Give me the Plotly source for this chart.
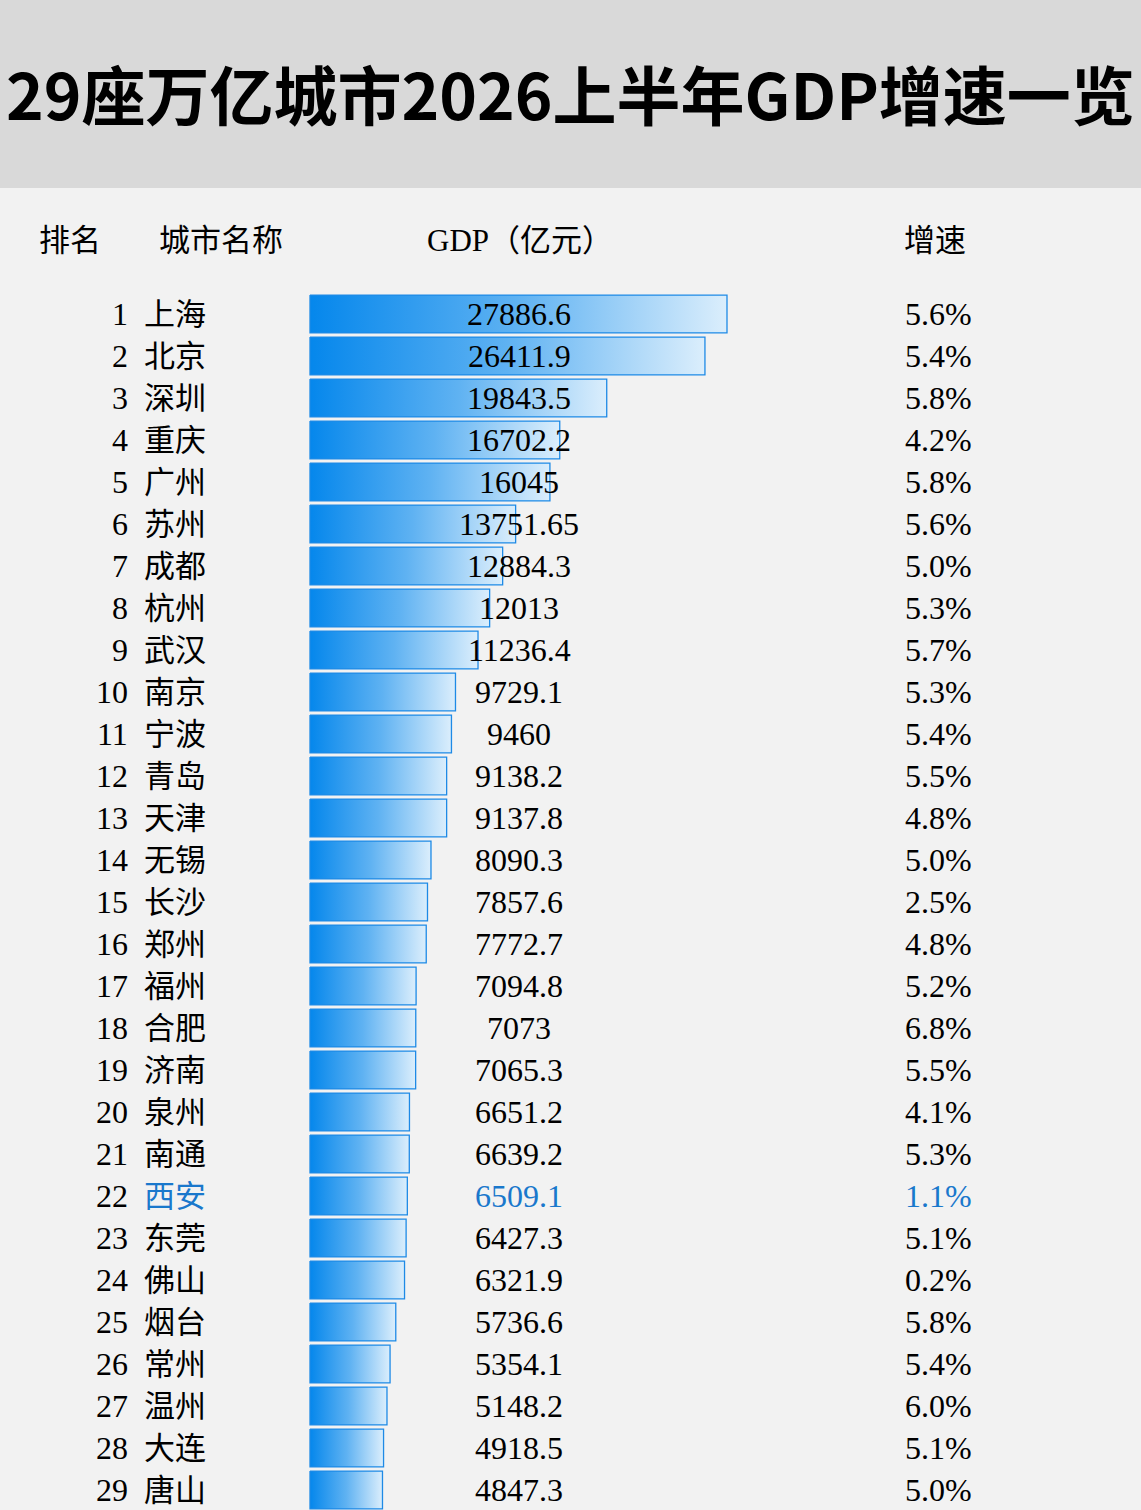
import plotly.graph_objects as go

# 29座万亿城市 2026上半年 GDP 与增速
ranks = list(range(1, 30))
cities = ["上海", "北京", "深圳", "重庆", "广州", "苏州", "成都", "杭州", "武汉", "南京",
          "宁波", "青岛", "天津", "无锡", "长沙", "郑州", "福州", "合肥", "济南", "泉州",
          "南通", "西安", "东莞", "佛山", "烟台", "常州", "温州", "大连", "唐山"]
gdp_text = ["27886.6", "26411.9", "19843.5", "16702.2", "16045", "13751.65", "12884.3", "12013",
            "11236.4", "9729.1", "9460", "9138.2", "9137.8", "8090.3", "7857.6", "7772.7",
            "7094.8", "7073", "7065.3", "6651.2", "6639.2", "6509.1", "6427.3", "6321.9",
            "5736.6", "5354.1", "5148.2", "4918.5", "4847.3"]
gdp = [float(v) for v in gdp_text]
growth = ["5.6%", "5.4%", "5.8%", "4.2%", "5.8%", "5.6%", "5.0%", "5.3%", "5.7%", "5.3%",
          "5.4%", "5.5%", "4.8%", "5.0%", "2.5%", "4.8%", "5.2%", "6.8%", "5.5%", "4.1%",
          "5.3%", "1.1%", "5.1%", "0.2%", "5.8%", "5.4%", "6.0%", "5.1%", "5.0%"]
highlight = "西安"

W, H = 1141, 1510
X0 = 310            # pixel where GDP = 0
PX_PER = 417 / 27886.6
ROW0, ROWH = 314, 42

xr = [-X0 / PX_PER, (W - X0) / PX_PER]
yr = [1 + (H - ROW0) / ROWH, 1 - ROW0 / ROWH]

BODY = "Liberation Serif, Noto Sans CJK SC, serif"
BLUE = "#1a78cc"
half = 0.45

fig = go.Figure()

for r, v in zip(ranks, gdp):
    fig.add_trace(go.Scatter(
        x=[0, v, v, 0, 0], y=[r - half, r - half, r + half, r + half, r - half],
        mode="lines", fill="toself",
        line=dict(color="#1e8ae6", width=1.3),
        fillgradient=dict(type="horizontal",
                          colorscale=[[0, "#0587ec"], [0.5, "#5fb2f2"], [1, "#dbeefc"]]),
        hoverinfo="skip", showlegend=False))

ann = []
for r, c, t, g in zip(ranks, cities, gdp_text, growth):
    col = BLUE if c == highlight else "black"
    ann.append(dict(x=130 / W, y=r, xref="paper", yref="y", text=str(r), xanchor="right",
                    showarrow=False, font=dict(family=BODY, size=32, color="black")))
    ann.append(dict(x=142 / W, y=r, xref="paper", yref="y", text=c, xanchor="left",
                    showarrow=False, font=dict(family=BODY, size=31, color=col)))
    ann.append(dict(x=519 / W, y=r, xref="paper", yref="y", text=t, xanchor="center",
                    showarrow=False, font=dict(family=BODY, size=32, color=col)))
    ann.append(dict(x=903 / W, y=r, xref="paper", yref="y", text=g, xanchor="left",
                    showarrow=False, font=dict(family=BODY, size=32, color=col)))

# header row
hy = 1 - 241 / H
for txt, x, anc in [("排名", 37, "left"), ("城市名称", 157, "left"),
                    ("GDP（亿元）", 520, "center"), ("增速", 902, "left")]:
    ann.append(dict(x=x / W, y=hy, xref="paper", yref="paper", text=txt, xanchor=anc,
                    yanchor="middle", showarrow=False,
                    font=dict(family=BODY, size=31, color="black")))

# title
ann.append(dict(x=0.5, y=1 - 92 / H, xref="paper", yref="paper",
                text="<b>29座万亿城市2026上半年GDP增速一览</b>", xanchor="center",
                yanchor="middle", showarrow=False,
                font=dict(family="Noto Sans CJK SC", size=64, color="black")))

fig.update_layout(
    width=W, height=H,
    margin=dict(l=0, r=0, t=0, b=0),
    paper_bgcolor="#f2f2f2", plot_bgcolor="#f2f2f2",
    xaxis=dict(range=xr, visible=False, fixedrange=True),
    yaxis=dict(range=yr, visible=False, fixedrange=True),
    annotations=ann,
    shapes=[dict(type="rect", xref="paper", yref="paper", x0=0, x1=1,
                 y0=1 - 188 / H, y1=1, fillcolor="#d9d9d9", line_width=0, layer="below")],
)

fig.write_html("out.html", config={"displayModeBar": False},
               post_script="document.body.style.margin='0';")
